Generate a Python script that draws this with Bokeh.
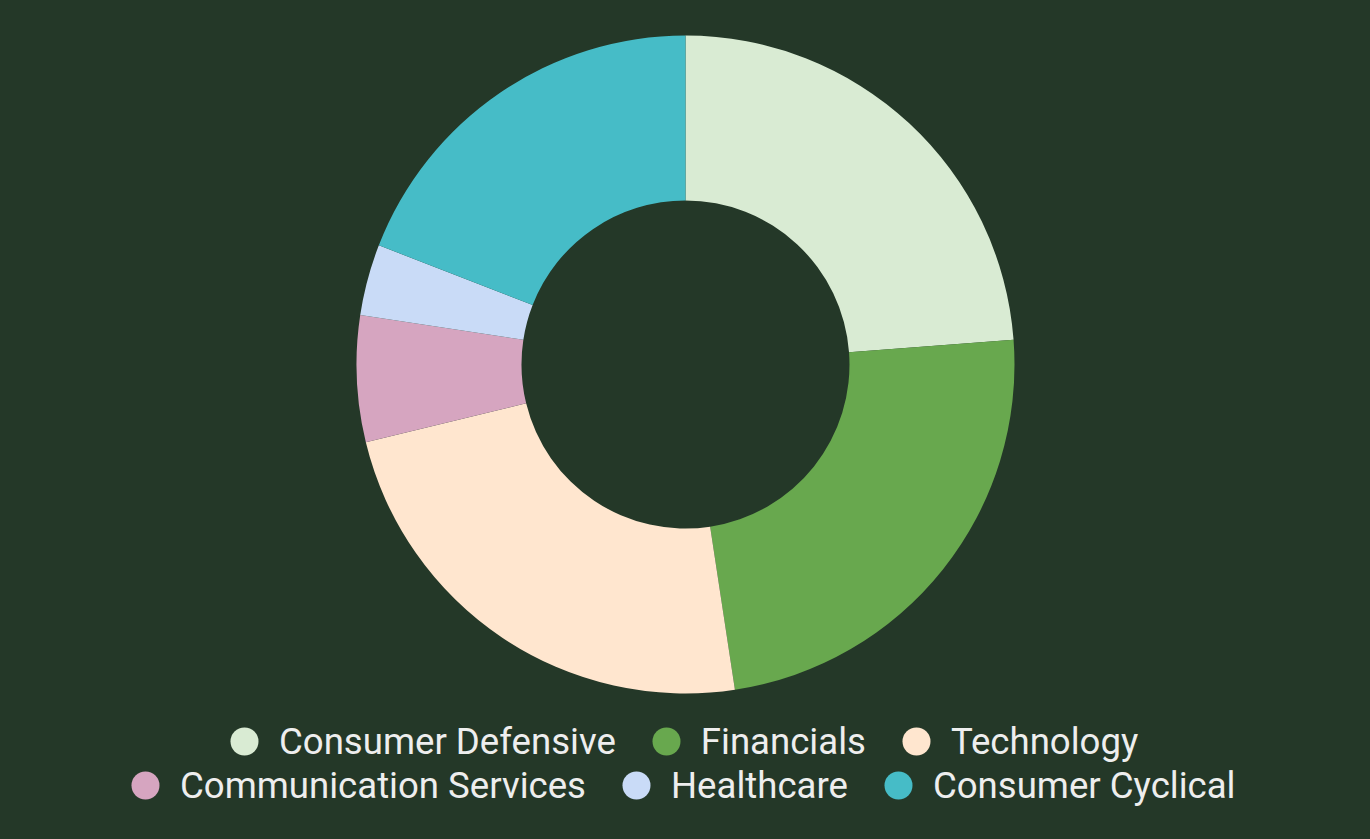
import numpy as np
from bokeh.plotting import figure
from bokeh.models import ColumnDataSource, Range1d, Legend, LegendItem
from bokeh.embed import file_html
from bokeh.resources import INLINE

sectors = ["Consumer Defensive", "Financials", "Technology",
           "Communication Services", "Healthcare", "Consumer Cyclical"]
shares = [23.8, 23.8, 23.6, 6.2, 3.5, 19.1]
colors = ["#D9EBD3", "#68A84E", "#FFE6CF", "#D6A5C0", "#C9DBF7", "#46BCC7"]

BG = "#243828"
W, H = 1370, 839
CX, CY = 685, 364  # donut centre in screen px from left/top

vals = np.array(shares, dtype=float)
frac = vals / vals.sum()
cum = np.concatenate([[0.0], np.cumsum(frac)])
start = np.pi / 2 - 2 * np.pi * cum[:-1]
end = np.pi / 2 - 2 * np.pi * cum[1:]

src = ColumnDataSource(dict(sector=sectors, share=shares, color=colors,
                            start=start, end=end,
                            x=[0.0] * len(sectors), y=[0.0] * len(sectors)))

p = figure(width=W, height=H, output_backend="svg", toolbar_location=None,
           x_range=Range1d(-CX, W - CX), y_range=Range1d(-(H - CY), CY),
           x_axis_type=None, y_axis_type=None, min_border=0,
           background_fill_color=BG, border_fill_color=BG,
           outline_line_color=None)
p.grid.visible = False

p.annular_wedge(x="x", y="y", inner_radius=164, outer_radius=329,
                start_angle="start", end_angle="end", direction="clock",
                fill_color="color", line_color=None, source=src)

dots = p.scatter(x="x", y="y", size=0, fill_color="color", line_color=None,
                 source=src)

def make_legend(idx, loc):
    items = [LegendItem(label=sectors[i], renderers=[dots], index=i) for i in idx]
    lg = Legend(items=items, orientation="horizontal", location=loc,
                glyph_width=70, glyph_height=70, label_height=70,
                label_standoff=0, spacing=15, padding=0, margin=0,
                label_text_font="Roboto", label_text_font_size="36.6px",
                label_text_color="#EEEEEE", border_line_color=None,
                background_fill_alpha=0)
    p.add_layout(lg, "center")

make_legend([0, 1, 2], (209, 63))
make_legend([3, 4, 5], (110, 19))

try:
    from bokeh.core.templates import get_env
    tpl = get_env().from_string(
        '{% extends "file.html" %}{% block postamble %}'
        '<style>html,body{background:' + BG + ';}</style>{% endblock %}')
    html = file_html(p, INLINE, template=tpl)
except Exception:
    html = file_html(p, INLINE)

open("out.html", "w").write(html)
